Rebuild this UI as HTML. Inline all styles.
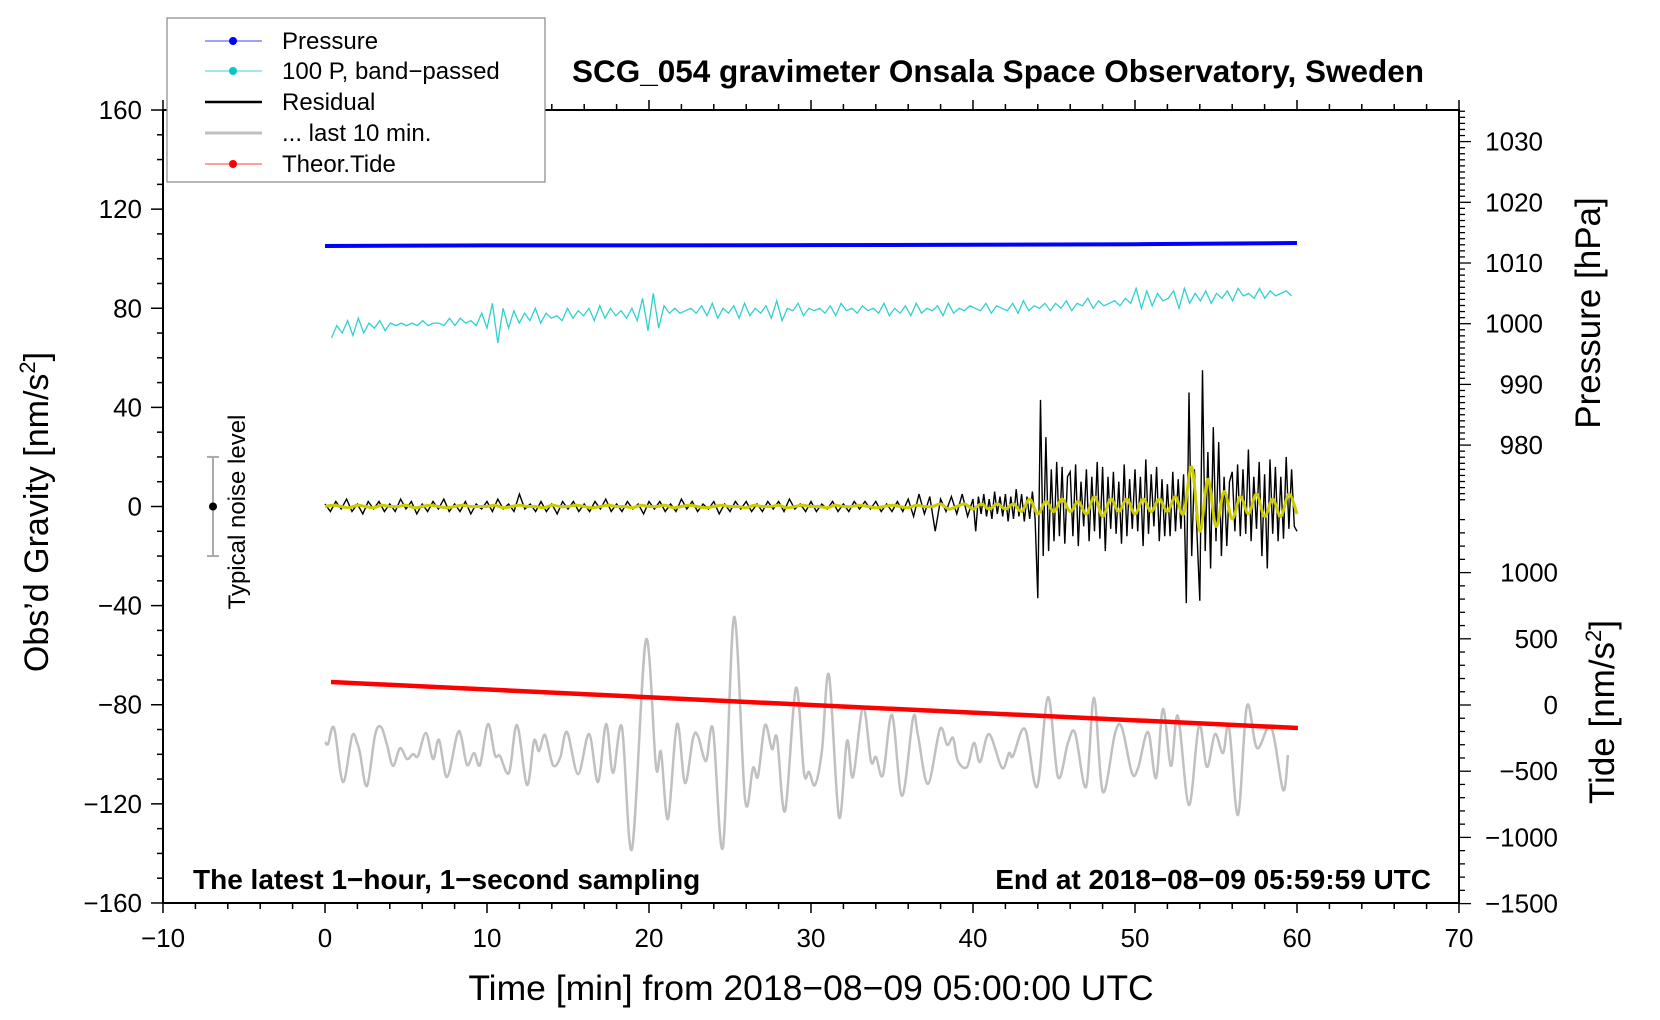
<!DOCTYPE html>
<html><head><meta charset="utf-8"><style>
html,body{margin:0;padding:0;background:#fff;}
svg{display:block;font-family:"Liberation Sans",Arial,sans-serif;}
</style></head><body>
<svg id="chart" width="1660" height="1020" viewBox="0 0 1660 1020" xmlns="http://www.w3.org/2000/svg">
<rect x="0" y="0" width="1660" height="1020" fill="#fff"/>
<g id="series"></g>
<g id="axes"></g>
<text x="998" y="82" text-anchor="middle" font-size="31.5" font-weight="bold">SCG_054 gravimeter Onsala Space Observatory, Sweden</text>
<text x="193" y="889" font-size="28" font-weight="bold">The latest 1−hour, 1−second sampling</text>
<text x="1431" y="889" text-anchor="end" font-size="28" font-weight="bold">End at 2018−08−09 05:59:59 UTC</text>
<text transform="translate(48,512) rotate(-90)" text-anchor="middle" font-size="34">Obs’d Gravity [nm/s<tspan font-size="22" dy="-13">2</tspan><tspan dy="13">]</tspan></text>
<text x="811" y="1000" text-anchor="middle" font-size="35.5">Time [min] from 2018−08−09 05:00:00 UTC</text>
<text transform="translate(1600,313) rotate(-90)" text-anchor="middle" font-size="35">Pressure [hPa]</text>
<text transform="translate(1614,712) rotate(-90)" text-anchor="middle" font-size="35">Tide [nm/s<tspan font-size="22" dy="-13">2</tspan><tspan dy="13">]</tspan></text>
<text transform="translate(245,512) rotate(-90)" text-anchor="middle" font-size="24">Typical noise level</text>
<g>
<rect x="167" y="18" width="378" height="164" fill="#fff" stroke="#888" stroke-width="1.2"/>
<g><line x1="205" y1="41" x2="262" y2="41" stroke="#4040ff" stroke-width="1"/><circle cx="233" cy="41" r="4" fill="#0000ff"/><text x="282" y="49" font-size="24">Pressure</text></g>
<g><line x1="205" y1="71" x2="262" y2="71" stroke="#40d0d0" stroke-width="1"/><circle cx="233" cy="71" r="4" fill="#00c8c8"/><text x="282" y="79" font-size="24">100 P, band−passed</text></g>
<g><line x1="205" y1="102" x2="262" y2="102" stroke="#000" stroke-width="2.5"/><text x="282" y="110" font-size="24">Residual</text></g>
<g><line x1="205" y1="133" x2="262" y2="133" stroke="#c0c0c0" stroke-width="3"/><text x="282" y="141" font-size="24">... last 10 min.</text></g>
<g><line x1="205" y1="164" x2="262" y2="164" stroke="#ff4040" stroke-width="1"/><circle cx="233" cy="164" r="4" fill="#ff0000"/><text x="282" y="172" font-size="24">Theor.Tide</text></g>
</g>
</svg>
<script>
// ---- data ----
const pressureTime = [0, 10, 20, 30, 40, 50, 60];
const pressureValue = [1012.8, 1012.9, 1012.9, 1012.95, 1013.0, 1013.1, 1013.3];
const bandPassedStart = 0.4;
const bandPassedStep = 1/3;
const bandPassedValue = [
68,73,70,75,69,76,70,74,72,75,71,74,73,74,73,
74,73,75,73,74,74,73,76,73,76,74,75,73,78,72,
82,66,80,72,79,74,78,75,80,74,78,76,77,75,80,
76,79,77,80,75,81,76,80,77,79,76,80,75,84,71,
86,72,81,78,80,78,79,80,78,81,77,82,76,80,78,
81,76,82,77,80,78,81,76,83,75,80,79,82,77,80,
79,80,78,81,77,82,79,80,78,81,79,80,78,82,77,
80,78,81,77,82,78,80,79,81,77,82,78,80,79,81,
80,79,82,78,81,80,79,82,78,83,79,81,80,82,79,
82,80,83,79,82,81,84,80,83,81,82,83,81,84,82,
88,80,87,81,86,83,84,87,80,88,82,86,83,87,82,
86,84,87,83,88,85,86,84,88,84,87,85,86,87,85];
const residualQuietStep = 1/3;
const residualQuiet = [
1,-2,2,-1,3,-2,1,-3,2,-1,2,-2,1,-2,3,-1,2,-3,1,-2,
2,-1,3,-2,1,-2,2,-3,1,-1,2,-2,3,-1,1,-2,5,-1,1,-2,
2,-2,1,-3,2,-1,2,-2,1,-2,2,-1,3,-2,1,-2,2,-1,1,-3,
2,-1,2,-2,1,-2,3,-1,2,-2,1,-1,2,-3,1,-2,2,-1,2,-2,
1,-2,2,-1,2,-2,3,-1,1,-2,2,-2,1,-1,2,-2,1,-2,2,-1,
2,-1,2,-2,1,-2,2,-2,3,-4,5,-3,4,-10,3,-2,4,-3,5,-4,3];
const residualLoudStart = 40;
const residualLoudStep = 1/6;
const residualLoud = [
3,-10,4,-3,5,-4,3,-5,6,-3,4,-4,
5,-6,4,-5,7,-4,5,-6,4,-5,6,-5,
-37,43,-20,28,-18,15,-14,18,-12,16,-15,12,
14,-12,17,-16,10,-8,15,-14,12,-10,18,-13,
16,-18,12,-9,14,-11,10,-15,17,-12,11,-9,
15,-10,12,-16,19,-11,13,-8,16,-14,11,-12,
9,-12,14,-10,11,-9,13,-39,46,-20,15,-12,
-38,55,-18,22,-25,32,-14,26,-20,12,-16,10,
14,-10,17,-12,15,-11,23,-14,12,-9,18,-20,
13,-25,19,-11,16,-14,12,-13,20,-9,15,-8,-10];
const filteredStep = 0.5;
const filteredValue = [
0,0.5,0,-0.5,0.5,0,-0.5,0.5,0,0,0.5,-0.5,0,0.5,0,-0.5,0,0.5,0,0,
0,0.5,-0.5,0,0.5,0,0,-0.5,0.5,0,0,0.5,0,-0.5,0,0.5,0,0,-0.5,0.5,
0,0,0.5,-0.5,0,0.5,0,-0.5,0,0.5,0,0,-0.5,0.5,0,0,0.5,-0.5,0,0.5,
0,0,-0.5,0.5,0,0,0.5,0,-0.5,0,0.5,0,-0.5,0.5,0,0,1,-1,0,1,
-1,1,-1,1,-1,1,-2,3,-3,2,-2,3,-2,2,-3,4,-4,3,-2,3,
-3,3,-2,3,-2,4,-3,16,-10,11,-8,6,-5,4,-3,5,-4,3,-4,5,-3];
const grayTime = [0.0,0.19,0.56,1.11,1.67,1.98,2.16,2.59,3.09,3.46,3.83,4.20,4.63,5.06,5.43,5.74,6.23,6.67,7.04,7.53,8.15,8.40,8.77,9.20,9.57,10.06,10.49,10.80,11.36,11.85,12.47,12.90,13.21,13.58,14.07,14.51,14.94,15.62,16.30,16.85,17.35,17.78,18.33,18.95,19.81,20.43,20.74,21.17,21.73,22.22,22.72,23.02,23.52,23.95,24.57,25.25,25.93,26.42,26.73,27.16,27.59,27.90,28.40,29.07,29.57,29.88,30.25,30.68,31.11,31.73,32.22,32.59,33.21,33.70,34.01,34.44,35.00,35.62,36.30,36.60,37.22,37.96,38.40,38.77,39.07,39.63,40.06,40.43,40.99,41.79,42.22,42.47,43.21,43.95,44.63,45.25,45.86,46.30,46.98,47.47,48.02,48.77,49.20,49.81,50.19,50.80,51.30,51.73,52.22,52.65,53.33,53.95,54.44,54.94,55.43,55.80,56.36,56.91,57.53,58.40,59.14,59.44];
const grayValue = [-95.0,-95.8,-89.4,-111.2,-92.6,-95.4,-99.5,-112.8,-92.2,-89.0,-96.2,-104.7,-97.5,-101.9,-99.9,-100.7,-91.4,-101.9,-94.2,-109.2,-92.2,-92.6,-104.3,-99.5,-104.3,-87.8,-100.3,-100.7,-107.5,-88.2,-112.4,-94.6,-98.7,-92.2,-104.3,-101.5,-91.0,-108.0,-91.8,-111.2,-87.8,-107.5,-89.0,-138.2,-53.9,-105.1,-99.1,-126.1,-87.8,-111.6,-93.4,-92.6,-102.7,-89.8,-137.4,-44.6,-118.4,-105.5,-108.8,-88.2,-97.9,-93.4,-122.9,-73.2,-107.5,-107.1,-112.4,-98.3,-68.0,-125.3,-94.6,-109.2,-80.9,-102.7,-101.1,-108.4,-84.1,-116.8,-85.3,-92.2,-112.0,-89.8,-96.2,-93.4,-102.7,-105.1,-95.4,-103.1,-91.8,-105.5,-99.5,-100.7,-89.8,-113.2,-76.9,-109.2,-95.4,-91.4,-113.2,-77.3,-115.2,-91.4,-89.4,-107.5,-105.5,-91.0,-109.6,-81.7,-104.7,-84.5,-120.5,-88.2,-105.1,-91.8,-99.5,-89.0,-124.5,-80.5,-97.5,-89.0,-114.4,-100.3];
const tideTime = [0.37, 30, 60.06];
const tideValue = [174, 0, -174];
const noiseLevel = 20;
const xTicks = [-10,0,10,20,30,40,50,60,70];
const yTicks = [160,120,80,40,0,-40,-80,-120,-160];
const pressureTicks = [980,990,1000,1010,1020,1030];
const tideTicks = [1000,500,0,-500,-1000,-1500];

// ---- scales ----
const L=163,R=1459,TOP=110,BOT=903;
const X = t => 325 + t*16.2;
const Y = v => 506.5 - v*2.478;
const P = p => 263 - (p-1010)*6.07;
const T = g => 705 - g*0.1324;
const NS='http://www.w3.org/2000/svg';
const series=document.getElementById('series'), axes=document.getElementById('axes');
function mk(tag, attrs, parent){const e=document.createElementNS(NS,tag);for(const k in attrs)e.setAttribute(k,attrs[k]);parent.appendChild(e);return e;}
function fmt(n){return n<0?'\u2212'+Math.abs(n):''+n;}
function poly(pts){return pts.map(p=>p[0].toFixed(1)+','+p[1].toFixed(1)).join(' ');}
function smooth(pts){let d='M'+pts[0][0].toFixed(1)+','+pts[0][1].toFixed(1);for(let i=0;i<pts.length-1;i++){const p0=pts[Math.max(0,i-1)],p1=pts[i],p2=pts[i+1],p3=pts[Math.min(pts.length-1,i+2)];const c1=[p1[0]+(p2[0]-p0[0])/6,p1[1]+(p2[1]-p0[1])/6],c2=[p2[0]-(p3[0]-p1[0])/6,p2[1]-(p3[1]-p1[1])/6];d+=' C'+c1[0].toFixed(1)+','+c1[1].toFixed(1)+' '+c2[0].toFixed(1)+','+c2[1].toFixed(1)+' '+p2[0].toFixed(1)+','+p2[1].toFixed(1);}return d;}

let e=mk('path',{d:smooth(grayTime.map((t,i)=>[X(t),Y(grayValue[i])])),fill:'none',stroke:'#c0c0c0','stroke-width':2.5},series);


e=mk('polyline',{points:poly(tideTime.map((t,i)=>[X(t),T(tideValue[i])])),fill:'none',stroke:'#ff0000','stroke-width':4.5},series);


e=mk('polyline',{points:poly(pressureTime.map((t,i)=>[X(t),P(pressureValue[i])])),fill:'none',stroke:'#0000ff','stroke-width':4},series);


e=mk('polyline',{points:poly(bandPassedValue.map((v,i)=>[X(bandPassedStart+i*bandPassedStep*(59.6/60)),Y(v)])),fill:'none',stroke:'#30d0d0','stroke-width':1.3},series);


const resPts=residualQuiet.map((v,i)=>[X(i*residualQuietStep),Y(v)]).concat(residualLoud.map((v,i)=>[X(residualLoudStart+i*residualLoudStep),Y(v)]));
e=mk('polyline',{points:poly(resPts),fill:'none',stroke:'#000','stroke-width':1.4},series);


e=mk('path',{d:smooth(filteredValue.map((v,i)=>[X(i*filteredStep),Y(v)])),fill:'none',stroke:'#cccc00','stroke-width':3},series);


const nx=213;
e=mk('g',{},series);


mk('line',{x1:nx,y1:Y(noiseLevel),x2:nx,y2:Y(-noiseLevel),stroke:'#aaa','stroke-width':2},e);
mk('line',{x1:nx-6,y1:Y(noiseLevel),x2:nx+6,y2:Y(noiseLevel),stroke:'#aaa','stroke-width':2},e);
mk('line',{x1:nx-6,y1:Y(-noiseLevel),x2:nx+6,y2:Y(-noiseLevel),stroke:'#aaa','stroke-width':2},e);
mk('circle',{cx:nx,cy:Y(0),r:4,fill:'#000'},e);

e=mk('rect',{x:L,y:TOP,width:R-L,height:BOT-TOP,fill:'none',stroke:'#000','stroke-width':2},axes);


for(let t=-10;t<=70;t+=2){const maj=t%10===0;mk('line',{x1:X(t),y1:BOT,x2:X(t),y2:BOT+(maj?10:6),stroke:'#000','stroke-width':1.5},axes);mk('line',{x1:X(t),y1:TOP,x2:X(t),y2:TOP-(maj?10:6),stroke:'#000','stroke-width':1.5},axes);}
xTicks.forEach(t=>{const l=mk('text',{x:X(t),y:947,'text-anchor':'middle','font-size':26},axes);l.textContent=fmt(t);

});
for(let v=-160;v<=160;v+=10){const maj=v%40===0;mk('line',{x1:L,y1:Y(v),x2:L-(maj?12:6),y2:Y(v),stroke:'#000','stroke-width':1.5},axes);}
yTicks.forEach(v=>{const l=mk('text',{x:142,y:Y(v)+9,'text-anchor':'end','font-size':26},axes);l.textContent=fmt(v);

});
for(let p=971;p<=1035;p++){const maj=p%10===0;mk('line',{x1:R,y1:P(p),x2:R+(maj?12:6),y2:P(p),stroke:'#000','stroke-width':1.3},axes);}
pressureTicks.forEach(p=>{const l=mk('text',{x:1543,y:P(p)+9,'text-anchor':'end','font-size':26},axes);l.textContent=fmt(p);

});
for(let g=-1500;g<=1400;g+=100){const maj=g%500===0;mk('line',{x1:R,y1:T(g),x2:R+(maj?12:6),y2:T(g),stroke:'#000','stroke-width':1.3},axes);}
tideTicks.forEach(g=>{const l=mk('text',{x:1558,y:T(g)+9,'text-anchor':'end','font-size':26},axes);l.textContent=fmt(g);

});
</script>
</body></html>
